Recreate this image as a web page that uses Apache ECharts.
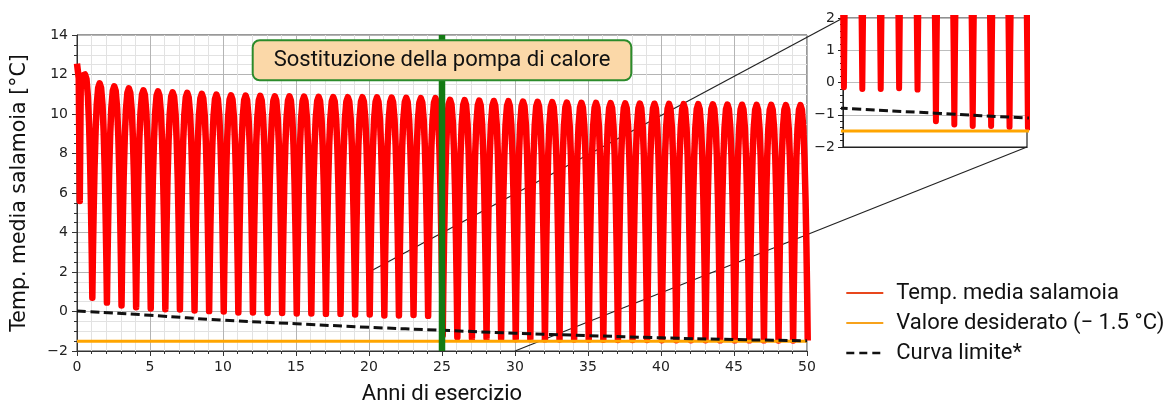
<!DOCTYPE html>
<html>
<head>
<meta charset="utf-8">
<script src="https://cdn.jsdelivr.net/npm/echarts@6/dist/echarts.min.js"></script>
<style>
html,body{margin:0;padding:0;background:#fff;}
#chart{width:1173px;height:410px;}
</style>
</head>
<body>
<div id="chart"></div>
<script>
// ---- data ----
const xTicks = [0, 50, 5];          // min, max, step (years)
const yTicks = [-2, 14, 2];         // min, max, step (°C)
const insetX = [20, 30];
const insetY = [-2, 2];
const seriesNames = ['Temp. media salamoia', 'Valore desiderato (− 1.5 °C)', 'Curva limite*'];
const annotationText = 'Sostituzione della pompa di calore';
const replacementYear = 25;
const annotationLevel = 12.72;

// first (start-up) year of brine temperature [year, °C]
const firstYear = [[0, 12.55], [0.08, 12.5], [0.12, 11.8], [0.19, 5.6], [0.26, 11.7], [0.4, 11.95]];
// yearly summer maximum (at year k+0.55) and winter minimum (at year k+1.05)
const peakTemp = [12.0, 11.55, 11.4, 11.3, 11.2, 11.15, 11.1, 11.07, 11.02, 10.98, 10.95,
  10.93, 10.92, 10.9, 10.9, 10.88, 10.87, 10.86, 10.85, 10.85, 10.84, 10.83, 10.82, 10.8,
  10.8, 10.72,
  10.7, 10.68, 10.66, 10.65, 10.63, 10.62, 10.6, 10.58, 10.57, 10.56, 10.55, 10.54, 10.53,
  10.52, 10.51, 10.5, 10.5, 10.49, 10.48, 10.47, 10.46, 10.46, 10.45, 10.45];
const troughTemp = [0.7, 0.45, 0.3, 0.22, 0.15, 0.12, 0.1, 0.05, 0.02, 0.0,
  -0.05, -0.05, -0.08, -0.08, -0.1, -0.1, -0.12, -0.12, -0.15, -0.15,
  -0.2, -0.2, -0.18, -0.22, -1.2, -1.3, -1.35, -1.35, -1.38, -1.4,
  -1.4, -1.41, -1.42, -1.42, -1.43, -1.43, -1.44, -1.44, -1.44, -1.45,
  -1.45, -1.45, -1.45, -1.46, -1.46, -1.46, -1.46, -1.47, -1.47, -1.47];
// shape of one half cycle (fraction of time from minimum to maximum, fraction of swing)
const riseShape = [[0, 0], [0.08, 0.2], [0.18, 0.4], [0.3, 0.6], [0.45, 0.78], [0.6, 0.9], [0.8, 0.98], [1, 1]];
// target value and limit curve
const targetLine = [[0, -1.5], [50, -1.5]];
const limitCurve = [[0, 0.03], [5, -0.19], [10, -0.44], [15, -0.62], [20, -0.8], [25, -0.95],
  [30, -1.1], [35, -1.22], [40, -1.33], [45, -1.42], [50, -1.48]];

// ---- build the brine series table from the arrays ----
const brine = firstYear.slice();
brine.push([0.55, peakTemp[0]]);
const fallShape = riseShape.slice().reverse();
for (let k = 0; k < peakTemp.length; k++) {
  const p = peakTemp[k], tr = troughTemp[k], tPeak = k + 0.55;
  for (let i = 1; i < fallShape.length; i++) {
    const s = fallShape[i][0], f = fallShape[i][1];
    brine.push([tPeak + (1 - s) * 0.5, tr + f * (p - tr)]);
  }
  if (k < peakTemp.length - 1) {
    const pn = peakTemp[k + 1], tTr = k + 1.05;
    for (let i = 1; i < riseShape.length; i++) {
      const s = riseShape[i][0], f = riseShape[i][1];
      brine.push([tTr + s * 0.5, tr + f * (pn - tr)]);
    }
  }
}

// ---- chart ----
const RED = '#ff0000', ORANGE = '#ffa500', GREEN = '#137a13';
const tickFont = 'DejaVu Sans';
const txtFont = 'Roboto';
const minus = v => String(v).replace('-', '\u2212');

const chart = echarts.init(document.getElementById('chart'), null, {renderer: 'canvas'});

const option = {
  animation: false,
  backgroundColor: '#fff',
  grid: [
    {left: 77, top: 35, width: 730, height: 322, show: true, borderColor: '#333', borderWidth: 1, backgroundColor: 'transparent'},
    {left: 843, top: 18, width: 184, height: 129, show: true, borderColor: '#222', borderWidth: 1.2, backgroundColor: '#fff'}
  ],
  xAxis: [
    {
      gridIndex: 0, type: 'value', min: xTicks[0], max: xTicks[1], interval: xTicks[2],
      name: 'Anni di esercizio', nameLocation: 'middle', nameGap: 43,
      nameTextStyle: {fontFamily: txtFont, fontSize: 22, color: '#111', verticalAlign: 'middle'},
      axisLine: {show: true, onZero: false, lineStyle: {color: '#333', width: 1}},
      axisTick: {show: true, length: 5, lineStyle: {color: '#333'}},
      minorTick: {show: true, splitNumber: 5, length: 3, lineStyle: {color: '#333'}},
      splitLine: {show: true, lineStyle: {color: '#b4b4b4', width: 1}},
      minorSplitLine: {show: true, lineStyle: {color: '#e2e2e2', width: 1}},
      axisLabel: {fontFamily: tickFont, fontSize: 14, color: '#222', margin: 9, formatter: minus}
    },
    {
      gridIndex: 1, type: 'value', min: insetX[0], max: insetX[1],
      axisLine: {show: true, onZero: false, lineStyle: {color: '#222'}},
      axisTick: {show: false}, axisLabel: {show: false}, splitLine: {show: false}
    }
  ],
  yAxis: [
    {
      gridIndex: 0, type: 'value', min: yTicks[0], max: yTicks[1], interval: yTicks[2],
      name: 'Temp. media salamoia [°C]', nameLocation: 'middle', nameGap: 57, nameRotate: 90,
      nameTextStyle: {fontFamily: 'DejaVu Sans', fontSize: 20.5, color: '#111', verticalAlign: 'middle'},
      axisLine: {show: true, onZero: false, lineStyle: {color: '#333', width: 1}},
      axisTick: {show: true, length: 5, lineStyle: {color: '#333'}},
      minorTick: {show: true, splitNumber: 4, length: 3, lineStyle: {color: '#333'}},
      splitLine: {show: true, lineStyle: {color: '#b4b4b4', width: 1}},
      minorSplitLine: {show: true, lineStyle: {color: '#e2e2e2', width: 1}},
      axisLabel: {fontFamily: tickFont, fontSize: 14, color: '#222', margin: 9, formatter: minus}
    },
    {
      gridIndex: 1, type: 'value', min: insetY[0], max: insetY[1], interval: 1,
      axisLine: {show: true, onZero: false, lineStyle: {color: '#222'}},
      axisTick: {show: true, length: 5, lineStyle: {color: '#222'}},
      minorTick: {show: true, splitNumber: 5, length: 3, lineStyle: {color: '#222'}},
      splitLine: {show: true, lineStyle: {color: '#bdbdbd', width: 1.2}},
      axisLabel: {fontFamily: tickFont, fontSize: 14, color: '#222', margin: 8, formatter: minus}
    }
  ],
  legend: {
    orient: 'vertical', left: 845, top: 282, padding: 0, itemGap: 8,
    itemWidth: 37, itemHeight: 14, selectedMode: false,
    itemStyle: {opacity: 0},
    textStyle: {fontFamily: txtFont, fontSize: 22, color: '#111', lineHeight: 22, padding: [0, 0, 0, 8]},
    data: [
      {name: seriesNames[0], itemStyle: {opacity: 0}, lineStyle: {color: '#e8471d', width: 2.2, opacity: 1}},
      {name: seriesNames[1], itemStyle: {opacity: 0}, lineStyle: {color: '#f7a21b', width: 2.2, opacity: 1}},
      {name: seriesNames[2], itemStyle: {opacity: 0}, lineStyle: {color: '#111', width: 2.6, type: [8, 5], opacity: 1}}
    ]
  },
  series: [
    {
      name: seriesNames[0], type: 'line', xAxisIndex: 0, yAxisIndex: 0, data: brine,
      symbol: 'none', showSymbol: false, z: 2, silent: true,
      lineStyle: {color: RED, width: 6.5, join: 'round'}, itemStyle: {color: RED}
    },
    {
      name: seriesNames[1], type: 'line', xAxisIndex: 0, yAxisIndex: 0, data: targetLine,
      symbol: 'none', z: 3, lineStyle: {color: ORANGE, width: 3}, itemStyle: {color: ORANGE}
    },
    {
      name: seriesNames[2], type: 'line', xAxisIndex: 0, yAxisIndex: 0, data: limitCurve, smooth: true,
      symbol: 'none', z: 4, lineStyle: {color: '#111', width: 3, type: [9, 4.5]}, itemStyle: {color: '#111'}
    },
    {
      name: 'replacement', type: 'line', xAxisIndex: 0, yAxisIndex: 0,
      data: [[replacementYear, yTicks[0]], [replacementYear, yTicks[1]]],
      symbol: 'none', z: 5, lineStyle: {color: GREEN, width: 6.5},
      markPoint: {
        symbol: 'rect', symbolSize: 1, itemStyle: {color: 'rgba(0,0,0,0)'}, z: 10,
        data: [{coord: [replacementYear, annotationLevel]}],
        label: {
          show: true, position: 'inside', formatter: annotationText,
          fontFamily: txtFont, fontSize: 22, color: '#111',
          backgroundColor: '#fbd8a8', borderColor: '#2b8b2b', borderWidth: 2, borderRadius: 6,
          padding: [8, 20, 8, 20]
        }
      }
    },
    // inset copies
    {
      name: seriesNames[0], type: 'line', xAxisIndex: 1, yAxisIndex: 1, data: brine,
      symbol: 'none', z: 2, lineStyle: {color: RED, width: 6, join: 'round'}, itemStyle: {color: RED}
    },
    {
      name: seriesNames[1], type: 'line', xAxisIndex: 1, yAxisIndex: 1, data: targetLine,
      symbol: 'none', z: 3, lineStyle: {color: ORANGE, width: 3}, itemStyle: {color: ORANGE}
    },
    {
      name: seriesNames[2], type: 'line', xAxisIndex: 1, yAxisIndex: 1, data: limitCurve, smooth: true,
      symbol: 'none', z: 4, lineStyle: {color: '#111', width: 3, type: [9, 4.5]}, itemStyle: {color: '#111'}
    }
  ]
};
chart.setOption(option);

// connector lines between zoom window and inset, computed from both coordinate systems
const a0 = chart.convertToPixel({gridIndex: 0}, [insetX[0], insetY[1]]);
const a1 = chart.convertToPixel({gridIndex: 1}, [insetX[0], insetY[1]]);
const b0 = chart.convertToPixel({gridIndex: 0}, [insetX[1], insetY[0]]);
const b1 = chart.convertToPixel({gridIndex: 1}, [insetX[1], insetY[0]]);
chart.setOption({
  graphic: [
    {type: 'line', z: 1, silent: true, shape: {x1: a0[0], y1: a0[1], x2: a1[0], y2: a1[1]}, style: {stroke: '#222', lineWidth: 1.2}},
    {type: 'line', z: 1, silent: true, shape: {x1: b0[0], y1: b0[1], x2: b1[0], y2: b1[1]}, style: {stroke: '#222', lineWidth: 1.2}}
  ]
});
</script>
</body>
</html>
